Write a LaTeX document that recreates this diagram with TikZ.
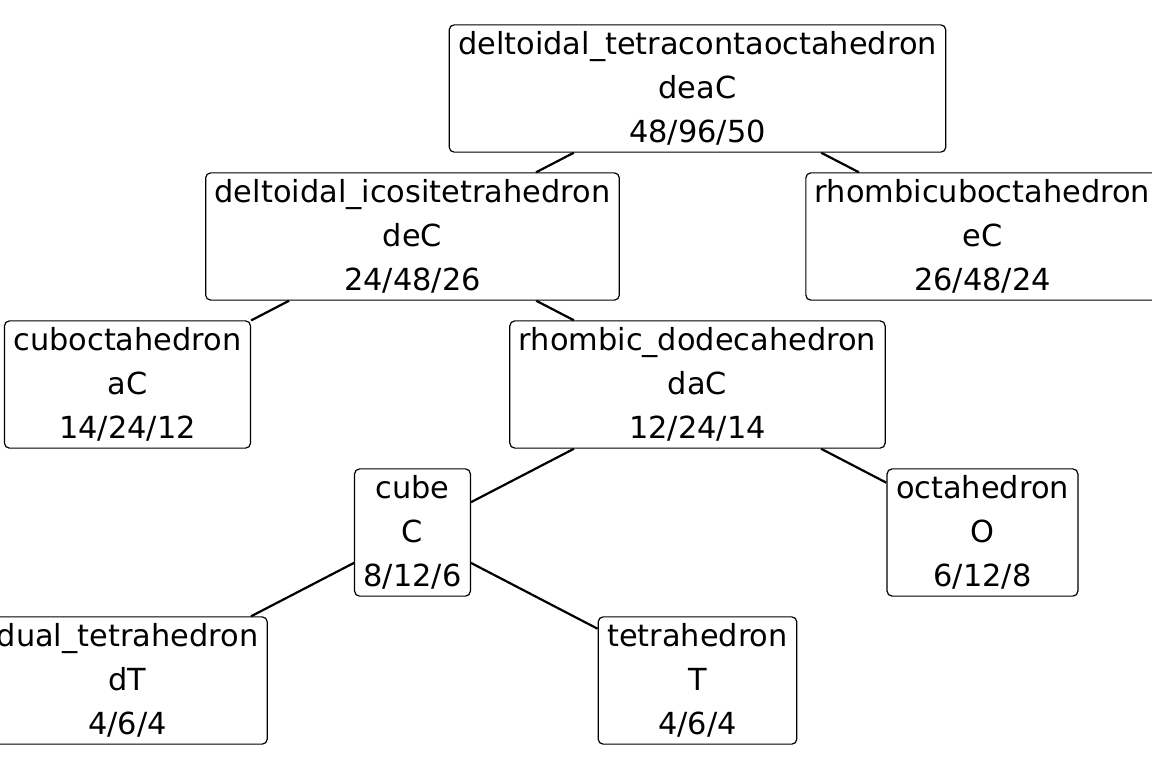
\documentclass[tikz,border=0pt]{standalone}
\usepackage{fontspec}
\setmainfont{DejaVu Sans}
\usetikzlibrary{positioning}
\begin{document}
\begin{tikzpicture}[node distance=74pt and 142.5pt, on grid, line width=1.1pt,
    main/.style = {draw, line width=0.6pt, rounded corners=2.5pt, fill=white, align=center,
      font=\fontsize{15.2pt}{22pt}\selectfont, inner xsep=4.5pt, minimum height=63.5pt}]
    \path[use as bounding box, clip] (-348.75pt,44.25pt) rectangle (227.25pt,-339.75pt);
    \node[main] (deaC) {deltoidal\_tetracontaoctahedron\\ deaC\\ 48/96/50};
    \node[main] (deC) [below left=of deaC] {deltoidal\_icositetrahedron\\ deC\\ 24/48/26};
    \node[main] (eC) [below right=of deaC] {rhombicuboctahedron\\ eC\\ 26/48/24};
    \node[main] (aC) [below left=of deC] {cuboctahedron\\ aC\\ 14/24/12};
    \node[main] (daC) [below right=of deC] {rhombic\_dodecahedron\\ daC\\ 12/24/14};
    \node[main] (C) [below left=of daC] {cube\\ C\\ 8/12/6};
    \node[main] (O) [below right=of daC] {octahedron\\ O\\ 6/12/8};
    \node[main] (dT) [below left=of C] {dual\_tetrahedron\\ dT\\ 4/6/4};
    \node[main] (T) [below right=of C] {tetrahedron\\ T\\ 4/6/4};

    \draw (deaC) -- (deC);
    \draw (deaC) -- (eC);
    \draw (deC) -- (aC);
    \draw (deC) -- (daC);
    \draw (daC) -- (C);
    \draw (daC) -- (O);
    \draw (C) -- (dT);
    \draw (C) -- (T);
\end{tikzpicture}
\end{document}
